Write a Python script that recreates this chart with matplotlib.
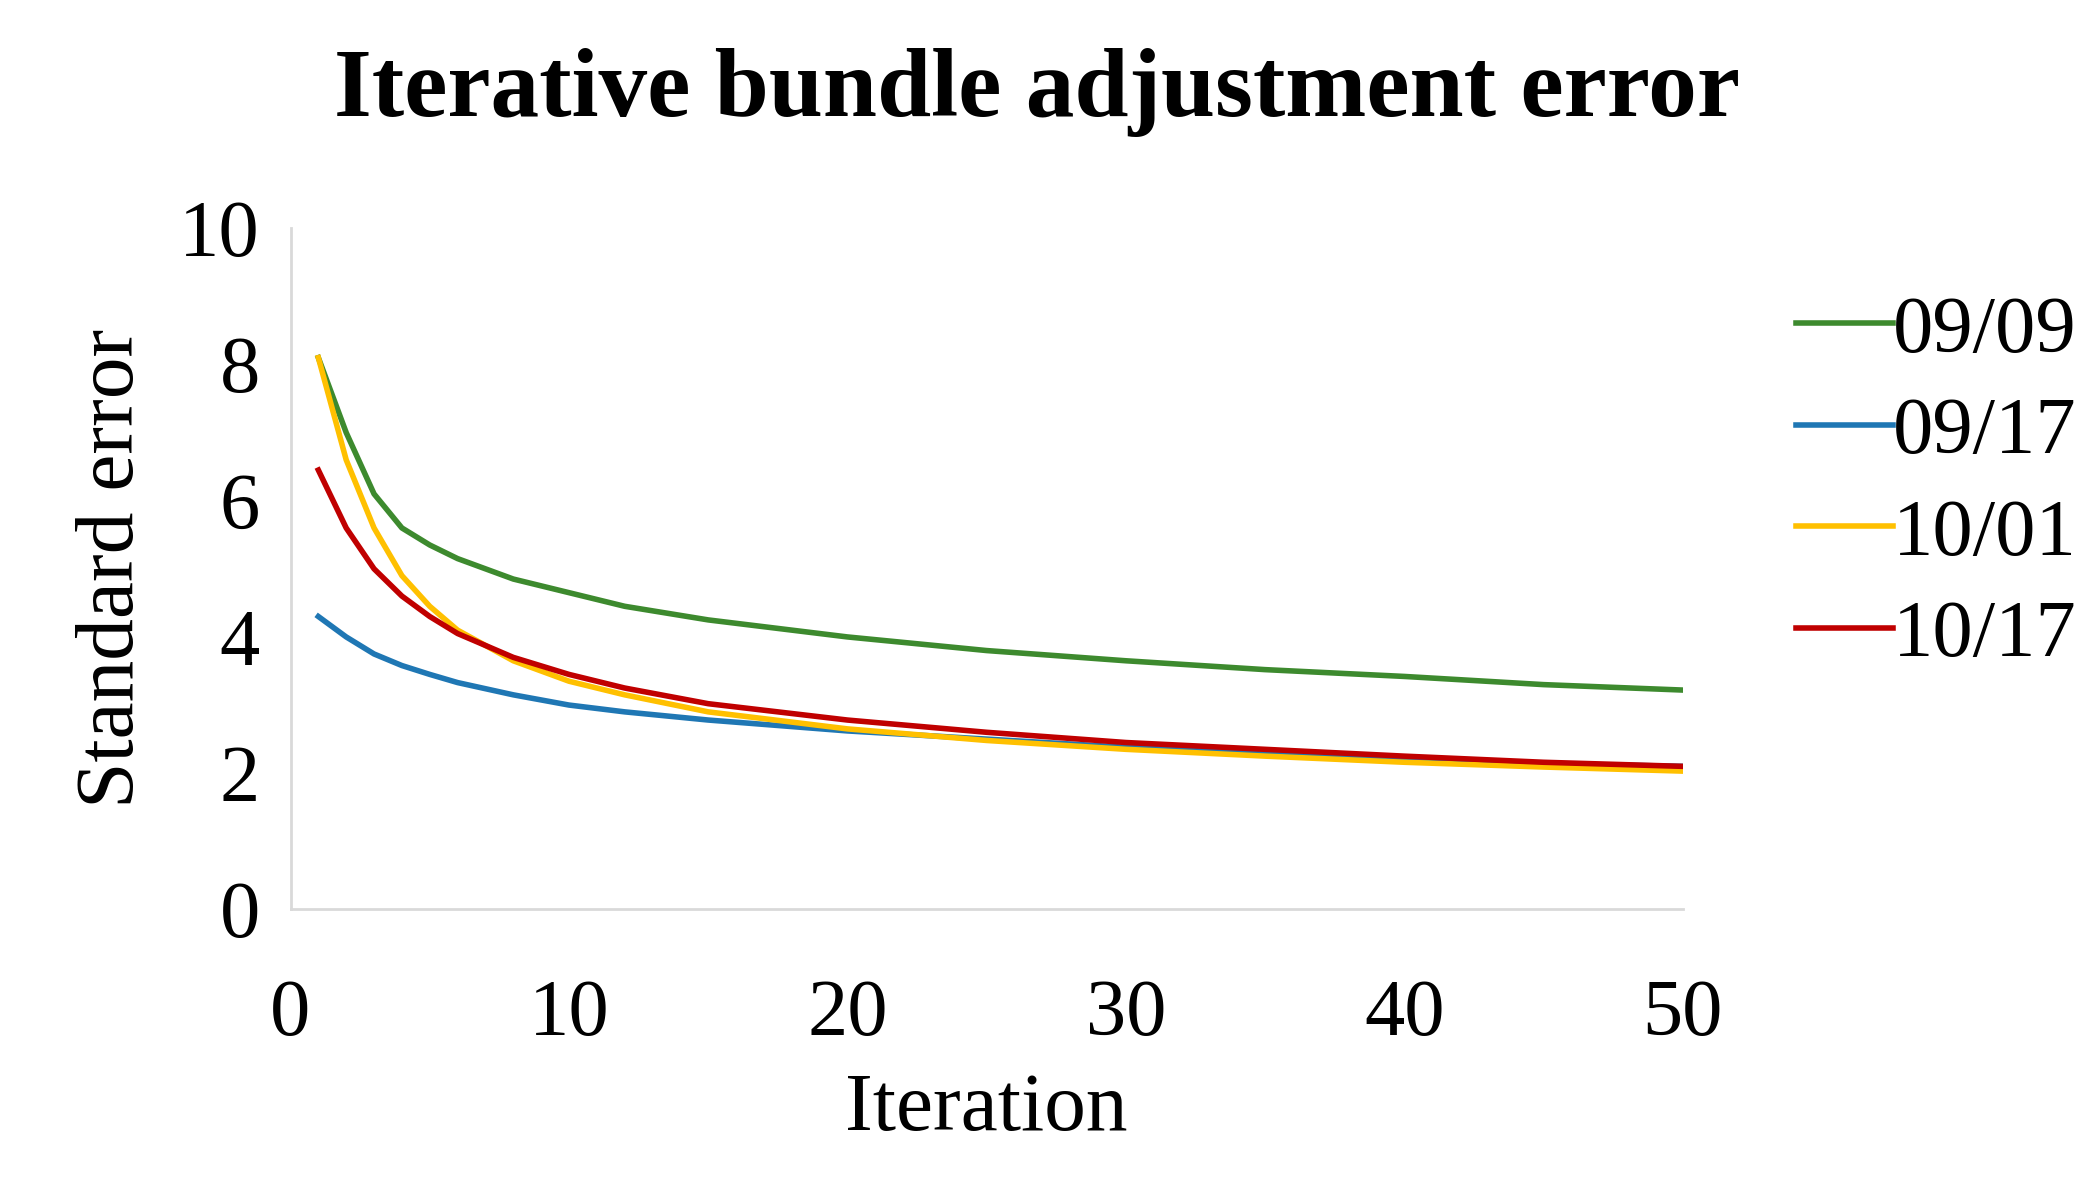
import matplotlib.pyplot as plt

iterations = [1, 2, 3, 4, 5, 6, 8, 10, 12, 15, 20, 25, 30, 35, 40, 45, 50]
err_0909 = [8.1, 7.0, 6.1, 5.6, 5.35, 5.15, 4.85, 4.65, 4.45, 4.25, 4.0, 3.8, 3.65, 3.52, 3.42, 3.3, 3.22]
err_0917 = [4.3, 4.0, 3.75, 3.58, 3.45, 3.33, 3.15, 3.0, 2.9, 2.78, 2.62, 2.5, 2.38, 2.28, 2.2, 2.14, 2.1]
err_1001 = [8.1, 6.6, 5.6, 4.9, 4.45, 4.1, 3.65, 3.35, 3.15, 2.9, 2.65, 2.48, 2.35, 2.25, 2.16, 2.09, 2.03]
err_1017 = [6.45, 5.6, 5.0, 4.6, 4.3, 4.05, 3.7, 3.45, 3.25, 3.02, 2.78, 2.6, 2.45, 2.35, 2.25, 2.16, 2.1]

series = [
    ('09/09', err_0909, '#3d8a2e'),
    ('09/17', err_0917, '#1f77b4'),
    ('10/01', err_1001, '#ffc000'),
    ('10/17', err_1017, '#c00000'),
]

plt.rcParams['font.family'] = ['Liberation Serif', 'DejaVu Serif']

fig = plt.figure(figsize=(20.75, 11.95), dpi=100)
ax = fig.add_axes([0.14, 0.239, 0.671, 0.57])
for label, vals, color in series:
    ax.plot(iterations, vals, color=color, lw=4, label=label)

ax.set_xlim(0, 50)
ax.set_ylim(0, 10)
ax.set_xticks(range(0, 51, 10))
ax.set_yticks(range(0, 11, 2))
ax.tick_params(length=0, labelsize=58, pad=22)
ax.tick_params(axis='x', pad=50)
for s in ['top', 'right']:
    ax.spines[s].set_visible(False)
for s in ['left', 'bottom']:
    ax.spines[s].set_color('#d9d9d9')
    ax.spines[s].set_linewidth(2)

ax.set_xlabel('Iteration', fontsize=60, labelpad=15)
ax.set_ylabel('Standard error', fontsize=60, labelpad=20)
fig.suptitle('Iterative bundle adjustment error', fontsize=70, fontweight='bold', y=0.96)
fig.legend(loc='upper left', bbox_to_anchor=(0.85, 0.78), frameon=False, fontsize=58,
           handlelength=1.2, handletextpad=0.0, labelspacing=0.35, borderaxespad=0)

fig.savefig('out.png')
